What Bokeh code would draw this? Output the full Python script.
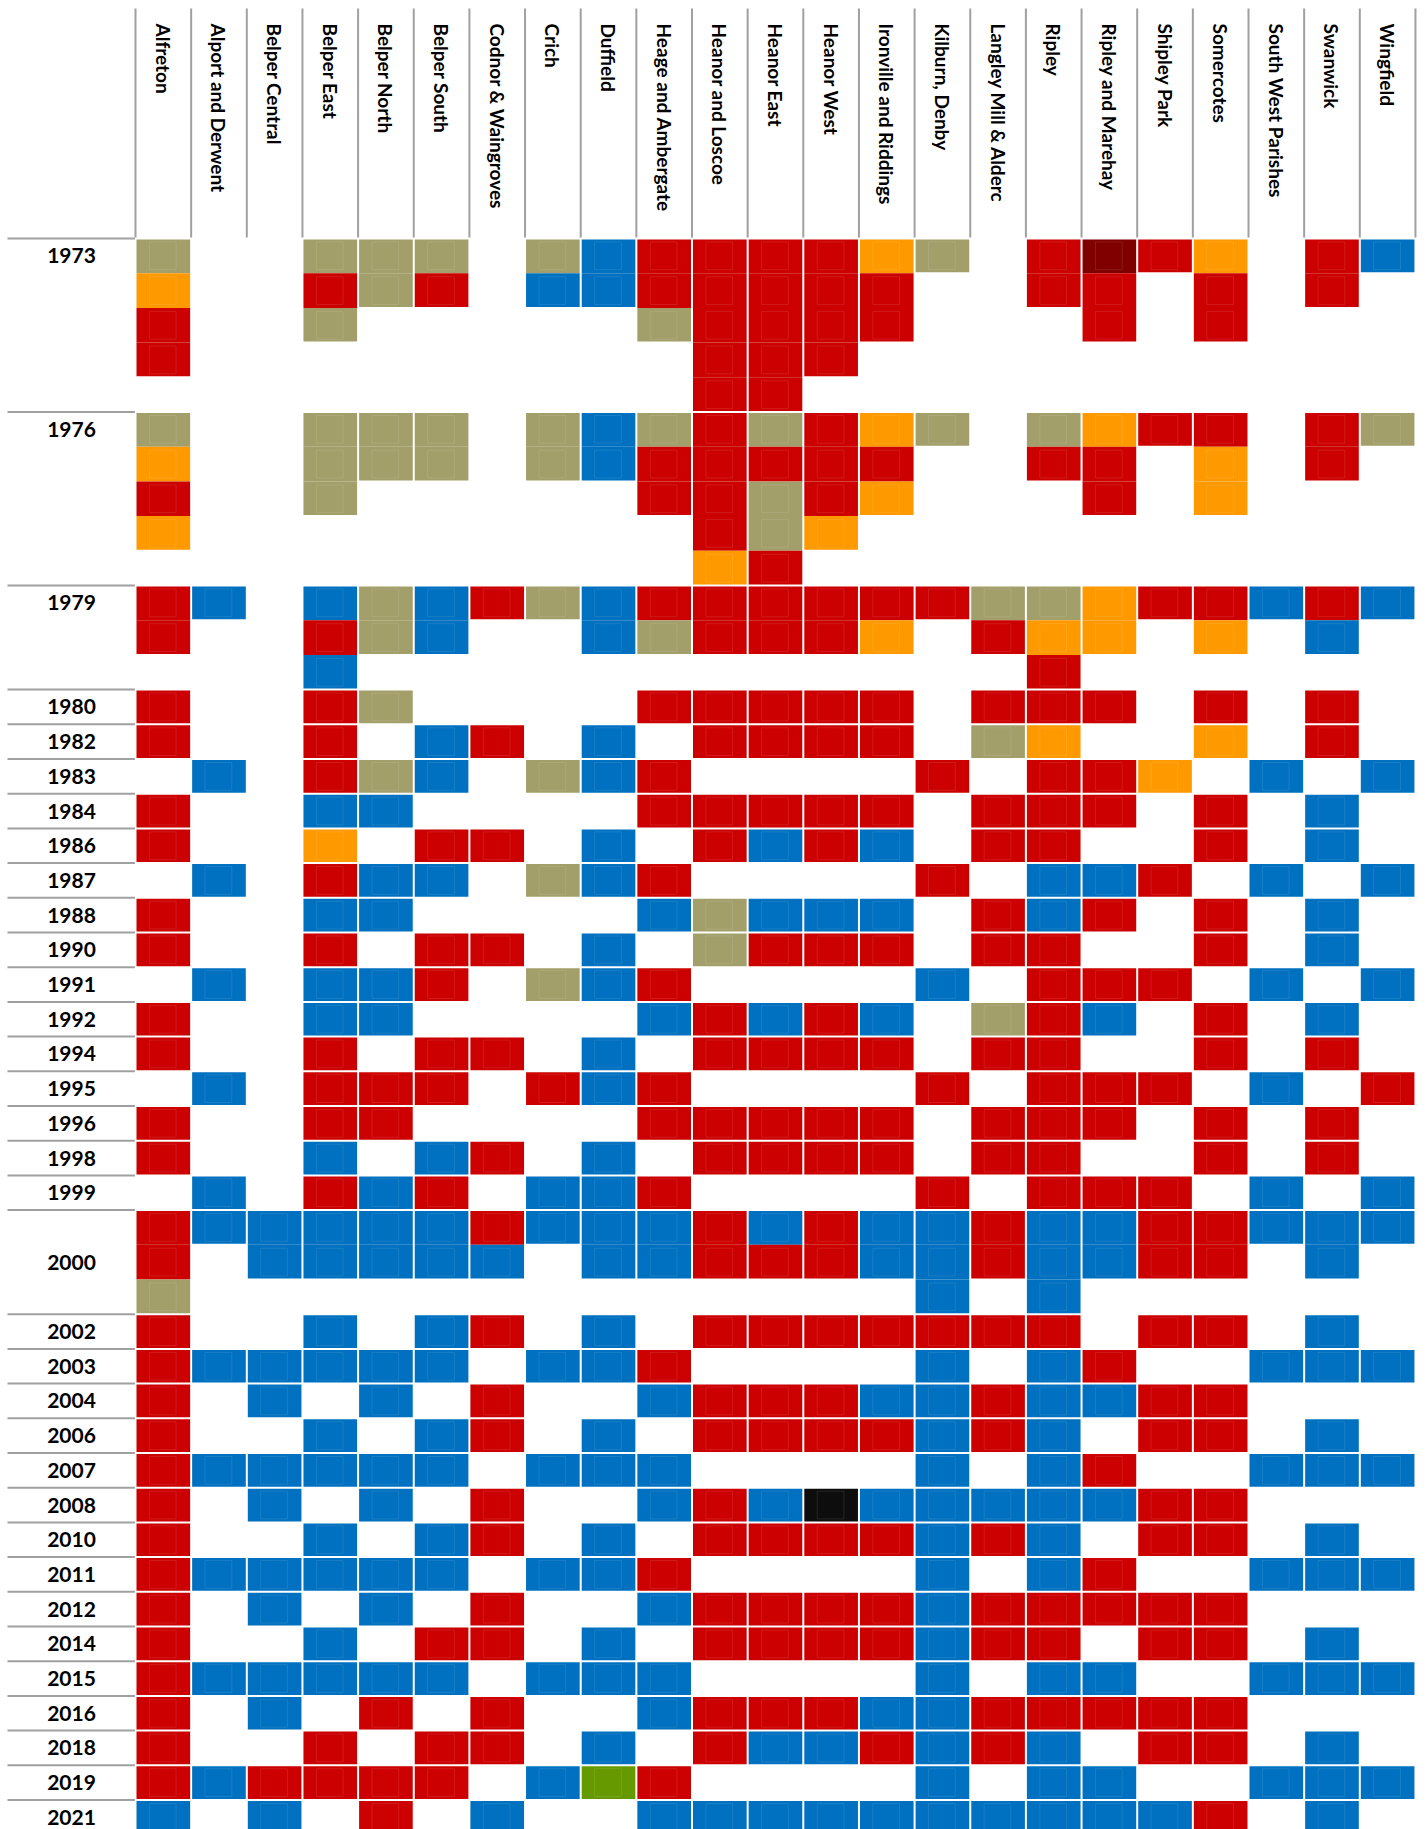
import math
from bokeh.plotting import figure
from bokeh.models import Range1d, ColumnDataSource
from bokeh.embed import file_html
from bokeh.resources import INLINE
from bokeh.core.properties import value

# ---------------- data ----------------
wards = ["Alfreton", "Alport and Derwent", "Belper Central", "Belper East", "Belper North",
         "Belper South", "Codnor & Waingroves", "Crich", "Duffield", "Heage and Ambergate",
         "Heanor and Loscoe", "Heanor East", "Heanor West", "Ironville and Riddings",
         "Kilburn, Denby", "Langley Mill & Alderc", "Ripley", "Ripley and Marehay",
         "Shipley Park", "Somercotes", "South West Parishes", "Swanwick", "Wingfield"]

years = [1973, 1976, 1979, 1980, 1982, 1983, 1984, 1986, 1987, 1988, 1990, 1991, 1992,
         1994, 1995, 1996, 1998, 1999, 2000, 2002, 2003, 2004, 2006, 2007, 2008, 2010,
         2011, 2012, 2014, 2015, 2016, 2018, 2019, 2021]

# party codes per seat: L Labour, C Conservative, I Independent, D Liberal,
# X other Labour, B BNP, G Green
r1973 = ["IDLL","","","ILI","II","IL","","IC","CC","LLI","LLLLL","LLLLL","LLLL","DLL","I","","LL","XLL","L","DLL","","LL","C"]
r1976 = ["IDLD","","","III","II","II","","II","CC","ILL","LLLLD","ILIIL","LLLD","DLD","I","","IL","DLL","L","LDD","","LL","I"]
r1979 = ["LL","C","","CLC","II","CC","L","I","CC","LI","LL","LL","LL","LD","L","IL","IDL","DD","L","LD","C","LC","C"]
r1980 = ["L","","","L","I","","","","","L","L","L","L","L","","L","L","L","","L","","L",""]
r1982 = ["L","","","L","","C","L","","C","","L","L","L","L","","I","D","","","D","","L",""]
r1983 = ["","C","","L","I","C","","I","C","L","","","","","L","","L","L","D","","C","","C"]
r1984 = ["L","","","C","C","","","","","L","L","L","L","L","","L","L","L","","L","","C",""]
r1986 = ["L","","","D","","L","L","","C","","L","C","L","C","","L","L","","","L","","C",""]
r1987 = ["","C","","L","C","C","","I","C","L","","","","","L","","C","C","L","","C","","C"]
r1988 = ["L","","","C","C","","","","","C","I","C","C","C","","L","C","L","","L","","C",""]
r1990 = ["L","","","L","","L","L","","C","","I","L","L","L","","L","L","","","L","","C",""]
r1991 = ["","C","","C","C","L","","I","C","L","","","","","C","","L","L","L","","C","","C"]
r1992 = ["L","","","C","C","","","","","C","L","C","L","C","","I","L","C","","L","","C",""]
r1994 = ["L","","","L","","L","L","","C","","L","L","L","L","","L","L","","","L","","L",""]
r1995 = ["","C","","L","L","L","","L","C","L","","","","","L","","L","L","L","","C","","L"]
r1996 = ["L","","","L","L","","","","","L","L","L","L","L","","L","L","L","","L","","L",""]
r1998 = ["L","","","C","","C","L","","C","","L","L","L","L","","L","L","","","L","","L",""]
r1999 = ["","C","","L","C","L","","C","C","L","","","","","L","","L","L","L","","C","","C"]
r2000 = ["LLI","C","CC","CC","CC","CC","LC","C","CC","CC","LL","CL","LL","CC","CCC","LL","CCC","CC","LL","LL","C","CC","C"]
r2002 = ["L","","","C","","C","L","","C","","L","L","L","L","L","L","L","","L","L","","C",""]
r2003 = ["L","C","C","C","C","C","","C","C","L","","","","","C","","C","L","","","C","C","C"]
r2004 = ["L","","C","","C","","L","","","C","L","L","L","C","C","L","C","C","L","L","","",""]
r2006 = ["L","","","C","","C","L","","C","","L","L","L","L","C","L","C","","L","L","","C",""]
r2007 = ["L","C","C","C","C","C","","C","C","C","","","","","C","","C","L","","","C","C","C"]
r2008 = ["L","","C","","C","","L","","","C","L","C","B","C","C","C","C","C","L","L","","",""]
r2010 = ["L","","","C","","C","L","","C","","L","L","L","L","C","L","C","","L","L","","C",""]
r2011 = ["L","C","C","C","C","C","","C","C","L","","","","","C","","C","L","","","C","C","C"]
r2012 = ["L","","C","","C","","L","","","C","L","L","L","L","C","L","L","L","L","L","","",""]
r2014 = ["L","","","C","","L","L","","C","","L","L","L","L","C","L","L","","L","L","","C",""]
r2015 = ["L","C","C","C","C","C","","C","C","C","","","","","C","","C","C","","","C","C","C"]
r2016 = ["L","","C","","L","","L","","","C","L","L","L","C","C","L","L","L","L","L","","",""]
r2018 = ["L","","","L","","L","L","","C","","L","C","C","L","C","L","C","","L","L","","C",""]
r2019 = ["L","C","L","L","L","L","","C","G","L","","","","","C","","C","C","","","C","C","C"]
r2021 = ["C","","C","","L","","C","","","C","C","C","C","C","C","C","C","C","C","L","","C",""]

results = [r1973, r1976, r1979, r1980, r1982, r1983, r1984, r1986, r1987, r1988, r1990,
           r1991, r1992, r1994, r1995, r1996, r1998, r1999, r2000, r2002, r2003, r2004,
           r2006, r2007, r2008, r2010, r2011, r2012, r2014, r2015, r2016, r2018, r2019, r2021]

party_colors = {"L": "#CC0000", "C": "#0070C0", "I": "#A39F6B", "D": "#FF9900",
                "X": "#800000", "B": "#0D0D0D", "G": "#669900"}

centred_label_years = [2000]

# ---------------- layout ----------------
W, H = 1428, 1829
COL_PX, ROW_PX = 55.65, 34.7
X0_PX, Y0_PX = 135, 238
HEADER_TOP_PX, LABEL_LEFT_PX = 8, 7

x_start = -X0_PX / COL_PX
x_end = (W - X0_PX) / COL_PX
y_top = -Y0_PX / ROW_PX
y_bottom = (H - Y0_PX) / ROW_PX
gx = 1.0 / COL_PX
gy = 1.0 / ROW_PX

p = figure(width=W, height=H, x_range=Range1d(x_start, x_end),
           y_range=Range1d(y_bottom, y_top), output_backend="svg",
           toolbar_location=None, min_border=0)
p.axis.visible = False
p.grid.visible = False
p.outline_line_color = None
p.background_fill_color = "white"
p.border_fill_color = "white"

left, right, top, bottom, color = [], [], [], [], []
il, ir, it, ib = [], [], [], []
blocks = []
row = 0
for year, res in zip(years, results):
    n = max(len(s) for s in res)
    blocks.append((year, row, n))
    for i, seats in enumerate(res):
        for k, party in enumerate(seats):
            left.append(i + gx)
            right.append(i + 1 - gx)
            top.append(row + k + (gy if k == 0 else 0))
            bottom.append(row + k + 1 - (gy if k == len(seats) - 1 else 0))
            color.append(party_colors[party])
            il.append(i + 0.25)
            ir.append(i + 0.73)
            it.append(row + k + 0.1)
            ib.append(row + k + 0.9)
    row += n

src = ColumnDataSource(dict(left=left, right=right, top=top, bottom=bottom, color=color))
p.quad(left="left", right="right", top="top", bottom="bottom", fill_color="color",
       line_color=None, source=src)
isrc = ColumnDataSource(dict(left=il, right=ir, top=it, bottom=ib))
p.quad(left="left", right="right", top="top", bottom="bottom", fill_color=None,
       line_color="white", line_alpha=0.1, line_width=1, source=isrc)

# header column lines
hx = list(range(len(wards) + 1))
p.segment(x0=hx, x1=hx, y0=[y_top + HEADER_TOP_PX / ROW_PX] * len(hx), y1=[-gy] * len(hx),
          line_color="#A0A0A0", line_width=2)

# year separator lines in label column
ys = [b[1] for b in blocks]
p.segment(x0=[x_start + LABEL_LEFT_PX / COL_PX] * len(ys), x1=[-gx * 0.6] * len(ys),
          y0=ys, y1=ys, line_color="#A0A0A0", line_width=2)

# year labels
lab_x = (x_start + LABEL_LEFT_PX / COL_PX) / 2.0
lab_y = [b[1] + (b[2] / 2.0 if b[0] in centred_label_years else 0.5) for b in blocks]
p.text(x=[lab_x] * len(blocks), y=lab_y, text=[str(b[0]) for b in blocks],
       text_font=value("Lato"), text_font_style="bold", text_font_size="21px",
       text_align="center", text_baseline="middle", text_color="#000000")

# ward labels (rotated)
p.text(x=[i + 0.5 for i in range(len(wards))], y=[y_top + 23 / ROW_PX] * len(wards),
       text=wards, angle=-math.pi / 2, text_font=value("Lato"), text_font_style="bold",
       text_font_size="19px", text_align="left", text_baseline="middle",
       text_color="#000000")

open("out.html", "w").write(file_html(p, INLINE))
